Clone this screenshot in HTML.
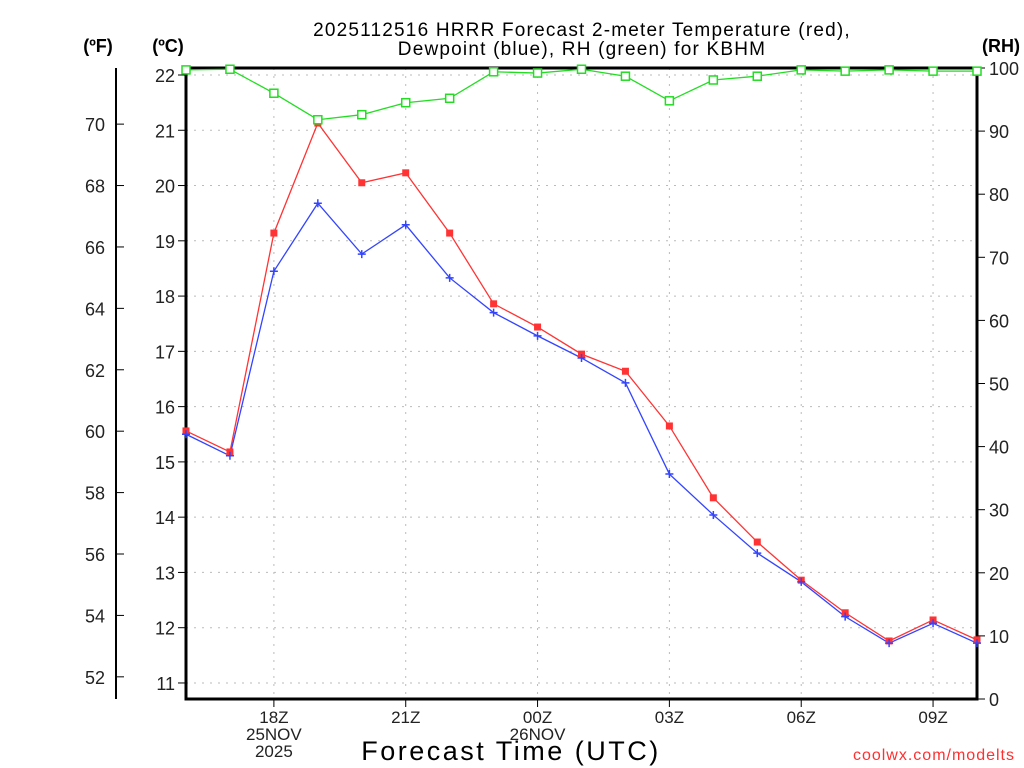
<!DOCTYPE html>
<html><head><meta charset="utf-8"><style>
html,body{margin:0;padding:0;background:#fff;width:1024px;height:768px;overflow:hidden}
svg text{font-family:"Liberation Sans",sans-serif}
</style></head><body>
<svg id="chart" width="1024" height="768" xmlns="http://www.w3.org/2000/svg">
<g id="grid"></g>
<g id="axes"></g>
<g id="series"></g>
<text x="582" y="36" font-size="19" text-anchor="middle" letter-spacing="1.2">2025112516 HRRR Forecast 2-meter Temperature (red),</text>
<text x="582" y="55" font-size="19" text-anchor="middle" letter-spacing="1.2">Dewpoint (blue), RH (green) for KBHM</text>
<text x="98" y="52" font-size="18" font-weight="bold" text-anchor="middle">(ºF)</text>
<text x="168" y="52" font-size="18" font-weight="bold" text-anchor="middle">(ºC)</text>
<text x="1001" y="52" font-size="18" font-weight="bold" text-anchor="middle">(RH)</text>
<text x="511" y="760" font-size="27" text-anchor="middle" letter-spacing="2.5">Forecast Time (UTC)</text>
<text x="1015" y="760" font-size="16" fill="#ff3030" text-anchor="end" letter-spacing="1">coolwx.com/modelts</text>
</svg>
<script>
const hours = [16,17,18,19,20,21,22,23,24,25,26,27,28,29,30,31,32,33,34];
const tempC = [15.56,15.18,19.14,21.13,20.05,20.23,19.14,17.86,17.44,16.95,16.64,15.65,14.35,13.55,12.86,12.27,11.76,12.14,11.78];
const dewC = [15.50,15.11,18.45,19.68,18.76,19.29,18.33,17.70,17.28,16.88,16.43,14.78,14.04,13.35,12.83,12.20,11.72,12.08,11.72];
const rh = [99.7,99.8,96.0,91.8,92.6,94.5,95.2,99.4,99.2,99.8,98.7,94.8,98.1,98.7,99.7,99.5,99.7,99.5,99.5];
const cTicks = [11,12,13,14,15,16,17,18,19,20,21,22];
const fTicks = [52,54,56,58,60,62,64,66,68,70];
const rhTicks = [0,10,20,30,40,50,60,70,80,90,100];
const xTickHours = [18,21,24,27,30,33];
const xTickLabels = ["18Z","21Z","00Z","03Z","06Z","09Z"];

const L=186,R=977,T=68,B=699;
const xs = h => L + (h-16)*(R-L)/18;
const yc = c => 75 + (22-c)*55.27;
const yf = f => yc((f-32)*5/9);
const yr = r => B - r*(B-T)/100;
const NS="http://www.w3.org/2000/svg";
function mk(parent,tag,attrs,text){const e=document.createElementNS(NS,tag);for(const k in attrs)e.setAttribute(k,attrs[k]);if(text!==undefined)e.textContent=text;document.getElementById(parent).appendChild(e);return e;}

cTicks.forEach(c=>{const e=mk('grid','line',{x1:L,x2:R,y1:yc(c),y2:yc(c),stroke:'#bbb','stroke-dasharray':'2,6'});

});
xTickHours.forEach(h=>{const e=mk('grid','line',{x1:xs(h),x2:xs(h),y1:T,y2:B,stroke:'#bbb','stroke-dasharray':'2,6'});

});

let fr=mk('axes','rect',{x:L,y:T,width:R-L,height:B-T,fill:'none',stroke:'#000','stroke-width':3});


let fa=mk('axes','line',{x1:116,x2:116,y1:T,y2:B,stroke:'#000','stroke-width':2});



cTicks.forEach(c=>{mk('axes','line',{x1:L-8,x2:L,y1:yc(c),y2:yc(c),stroke:'#000'});
const t=mk('axes','text',{x:L-11,y:yc(c)+7,'font-size':18,'text-anchor':'end',fill:'#222'},String(c));

});
fTicks.forEach(f=>{mk('axes','line',{x1:116,x2:124,y1:yf(f),y2:yf(f),stroke:'#000'});
const t=mk('axes','text',{x:105,y:yf(f)+7,'font-size':18,'text-anchor':'end',fill:'#222'},String(f));

});
rhTicks.forEach(r=>{mk('axes','line',{x1:R,x2:R+8,y1:yr(r),y2:yr(r),stroke:'#000'});
const t=mk('axes','text',{x:R+12,y:yr(r)+7,'font-size':18,fill:'#222'},String(r));

});
xTickHours.forEach((h,i)=>{mk('axes','line',{x1:xs(h),x2:xs(h),y1:B,y2:B+8,stroke:'#000'});
const t=mk('axes','text',{x:xs(h),y:B+24,'font-size':17,'text-anchor':'middle',fill:'#222'},xTickLabels[i]);

});
[["25NOV",18,1],["2025",18,2],["26NOV",24,1]].forEach(([s,h,r])=>{const t=mk('axes','text',{x:xs(h),y:B+24+r*17,'font-size':17,'text-anchor':'middle',fill:'#222'},s);

});

function line(vals,yfn,color,name){const p=mk('series','polyline',{points:vals.map((v,i)=>xs(hours[i])+','+yfn(v)).join(' '),fill:'none',stroke:color,'stroke-width':1.3});

}
line(rh,yr,'#22dd22','rh-line');
line(tempC,yc,'#ff3333','temperature-line');
line(dewC,yc,'#3344ff','dewpoint-line');
tempC.forEach((v,i)=>{const m=mk('series','rect',{x:xs(hours[i])-3.5,y:yc(v)-3.5,width:7,height:7,fill:'#ff3333'});

});
dewC.forEach((v,i)=>{const x=xs(hours[i]),y=yc(v);const m=mk('series','path',{d:`M${x-4},${y}H${x+4}M${x},${y-4}V${y+4}`,stroke:'#3344ff','stroke-width':1.5});

});
rh.forEach((v,i)=>{const m=mk('series','rect',{x:xs(hours[i])-4,y:yr(v)-4,width:8,height:8,fill:'#fff',stroke:'#22dd22','stroke-width':1.5});

});
</script>
</body></html>
